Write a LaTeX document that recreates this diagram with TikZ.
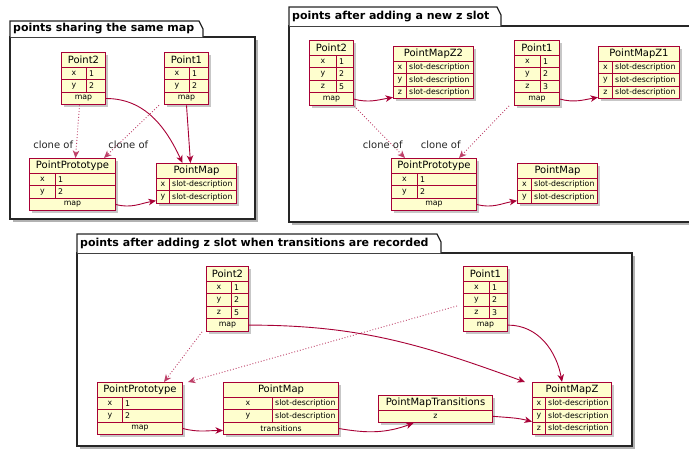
\documentclass[tikz,border=0pt]{standalone}
\usepackage{fontspec}
\setmainfont{DejaVu Sans}
\usetikzlibrary{arrows.meta,shadows}
\definecolor{umlred}{HTML}{A80036}
\definecolor{umlfill}{HTML}{FEFECE}

\newcommand\namefont{\fontsize{10}{12}\selectfont}
\newcommand\fieldfont{\fontsize{7.8}{9}\selectfont}
\newcommand\pkgfont{\fontsize{11}{13}\selectfont\bfseries}

\tikzset{
  objbody/.style={draw=umlred, line width=1pt, fill=umlfill, inner sep=0pt,
    drop shadow={shadow xshift=2.5pt, shadow yshift=-2.5pt, fill=black!55, opacity=0.4}},
  objcell/.style={draw=umlred, line width=1pt, fill=umlfill, inner sep=0pt, font=\fieldfont},
  fieldtxt/.style={inner sep=0pt, font=\fieldfont},
  pkgline/.style={draw=black!85, line width=1.2pt},
  arr/.style={draw=umlred, line width=0.9pt, -{Stealth[length=7.5pt, width=6.5pt, inset=2.2pt]}},
  dotarr/.style={arr, draw=umlred!75, dash pattern=on 0.9pt off 2pt},
  lbl/.style={inner sep=0pt, font=\fontsize{10}{12}\selectfont, text=black!85},
}

% package frame: left, tab top, body top, tab right, right, bottom, id, title
\newcommand\mkpkg[8]{%
  \path[fill=white, drop shadow={shadow xshift=3pt, shadow yshift=-3pt, fill=black!60, opacity=0.5}]
    (#1,#3) rectangle (#5,#6);
  \draw[pkgline] (#1,#3) rectangle (#5,#6);
  \draw[pkgline, fill=white] (#1,#3) -- (#1,#2) -- (#4,#2) -- ({#4+4},{#2+8}) -- ({#4+4},#3);
  \node[anchor=west, inner sep=0pt] (#7) at ({#1+3},{(#2+#3)/2}) {\pkgfont #8};
}

% object table: id, left, top, width, key column width, title, key/value rows, footer
\newcommand\mkobj[8]{%
  \xdef\objrows{0}%
  \foreach \kk/\vv [count=\i] in {#7}{\xdef\objrows{\i}}%
  \if\relax\detokenize{#8}\relax\def\objfoot{0}\else\def\objfoot{1}\fi
  \pgfmathsetmacro\objh{14.5+(\objrows+\objfoot)*12.6}%
  \node[objbody, minimum width=#4pt, minimum height=\objh pt, anchor=north west] (#1) at (#2,#3) {};
  \node[objcell, minimum width=#4pt, minimum height=14.5pt, anchor=north west] (#1-t) at (#2,#3) {\namefont #6};
  \foreach \kk/\vv [count=\i] in {#7}{%
    \pgfmathsetmacro\ry{#3+14.5+(\i-1)*12.6}%
    \node[objcell, minimum width=#5pt, minimum height=12.6pt, anchor=north west] (#1-k\i) at (#2,\ry) {\kk};
    \node[objcell, minimum width={(#4-#5)*1pt}, minimum height=12.6pt, anchor=north west] (#1-v\i) at ({#2+#5},\ry) {};
    \node[fieldtxt, anchor=west] (#1-w\i) at ([xshift=3pt]#1-v\i.west) {\vv};
  }%
  \ifnum\objfoot=1
    \pgfmathsetmacro\ry{#3+14.5+\objrows*12.6}%
    \node[objcell, minimum width=#4pt, minimum height=12.6pt, anchor=north west] (#1-f) at (#2,\ry) {#8};
  \fi
}

\begin{document}
\begin{tikzpicture}[x=1pt, y=-1pt]
\useasboundingbox (0,0) rectangle (689,448);

% ---------------- points sharing the same map ----------------
\mkpkg{10}{21}{37}{199}{255}{219}{pk1}{points sharing the same map}
\mkobj{p2a}{61}{52}{44}{25}{Point2}{x/1,y/2}{map}
\mkobj{p1a}{164}{52}{44}{25}{Point1}{x/1,y/2}{map}
\mkobj{ppa}{29}{158}{86}{26}{PointPrototype}{x/1,y/2}{map}
\mkobj{pma}{156}{163}{80}{13}{PointMap}{x/slot-description,y/slot-description}{}

\draw[arr] (p2a-f.east) to[out=0, in=115] ([xshift=-14pt]pma.north);
\draw[arr] (p1a-f.south) -- ([xshift=-6pt]pma.north);
\draw[dotarr] ([xshift=-4pt]p2a.south) -- node[lbl, at end, anchor=east, xshift=-2pt, yshift=13pt] {clone of} ([xshift=3pt]ppa.north);
\draw[dotarr] ([xshift=-5pt]p1a.south west) -- node[lbl, at end, anchor=west, xshift=4pt, yshift=13pt] {clone of} ([xshift=-12pt]ppa.north east);
\draw[arr] (ppa-f.east) to[out=-15, in=190] ([yshift=3pt]pma.south west);

% ---------------- points after adding a new z slot ----------------
\mkpkg{289}{7}{26}{497}{705}{222}{pk2}{points after adding a new z slot}
\mkobj{p2b}{309}{40}{44}{27}{Point2}{x/1,y/2,z/5}{map}
\mkobj{mz2}{393}{46}{80}{13}{PointMapZ2}{x/slot-description,y/slot-description,z/slot-description}{}
\mkobj{p1b}{514}{40}{45}{26}{Point1}{x/1,y/2,z/3}{map}
\mkobj{mz1}{598}{46}{81}{14}{PointMapZ1}{x/slot-description,y/slot-description,z/slot-description}{}
\mkobj{ppb}{391}{158}{85}{26}{PointPrototype}{x/1,y/2}{map}
\mkobj{pmb}{517}{163}{80}{14}{PointMap}{x/slot-description,y/slot-description}{}

\draw[arr] (p2b-f.east) to[out=-15, in=190] ([yshift=2pt]mz2.south west);
\draw[arr] (p1b-f.east) to[out=-15, in=190] ([yshift=2pt]mz1.south west);
\draw[dotarr] (p2b.south east) -- node[lbl, at end, anchor=east, xshift=-2pt, yshift=13pt] {clone of} ([xshift=14pt]ppb.north west);
\draw[dotarr] ([xshift=-5pt]p1b.south west) -- node[lbl, at end, anchor=east, xshift=2pt, yshift=13pt] {clone of} ([xshift=-18pt]ppb.north east);
\draw[arr] (ppb-f.east) to[out=-15, in=190] ([yshift=3pt]pmb.south west);

% ---------------- points after adding z slot when transitions are recorded ----------------
\mkpkg{77}{234}{253}{437}{632}{446}{pk3}{points after adding z slot when transitions are recorded}
\mkobj{p2c}{206}{266}{42}{25}{Point2}{x/1,y/2,z/5}{map}
\mkobj{p1c}{463}{266}{44}{26}{Point1}{x/1,y/2,z/3}{map}
\mkobj{ppc}{97}{382}{85}{25}{PointPrototype}{x/1,y/2}{map}
\mkobj{pmc}{223}{382}{115}{49}{PointMap}{x/slot-description,y/slot-description}{transitions}
\mkobj{mzc}{532}{382}{79}{13}{PointMapZ}{x/slot-description,y/slot-description,z/slot-description}{}
% transitions table: title and one full-width row
\node[objbody, minimum width=114pt, minimum height=27.1pt, anchor=north west] (pmt) at (378,395) {};
\node[objcell, minimum width=114pt, minimum height=14.5pt, anchor=north west] (pmt-t) at (378,395) {\namefont PointMapTransitions};
\node[objcell, minimum width=114pt, minimum height=12.6pt, anchor=north west] (pmt-f) at (378,409.5) {z};

\draw[dotarr] ([xshift=-4pt]p2c.south west) -- ([xshift=-19pt]ppc.north east);
\draw[dotarr] ([xshift=-6pt, yshift=-7pt]p1c.west) -- ([xshift=5pt]ppc.north east);
\draw[arr] (p2c-f.east) to[out=0, in=160] ([xshift=-7pt]mzc.north west);
\draw[arr] (p1c-f.east) to[out=0, in=100] ([xshift=-10pt]mzc.north);
\draw[arr] (ppc-f.east) to[out=-15, in=180] ([yshift=-2pt]pmc-f.west);
\draw[arr] (pmc-f.east) to[out=-10, in=200] ([xshift=-22pt]pmt.south);
\draw[arr] (pmt-f.east) to[out=-5, in=165] ([yshift=-13pt]mzc.west);
\end{tikzpicture}
\end{document}
